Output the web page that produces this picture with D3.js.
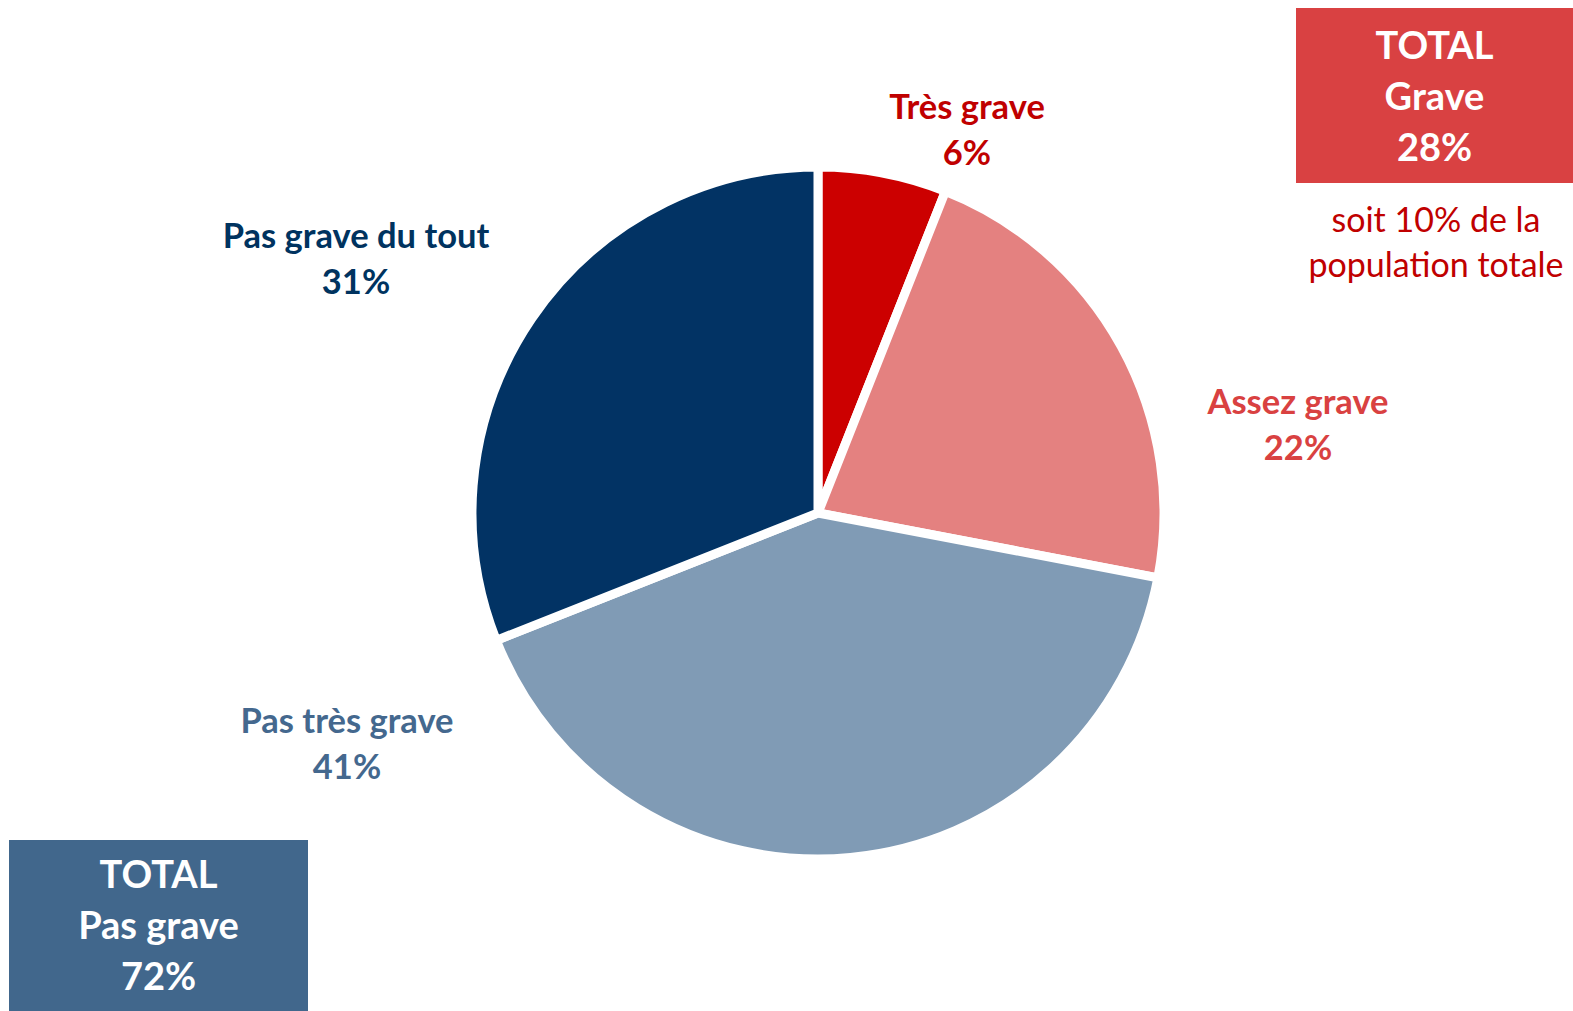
<!DOCTYPE html>
<html>
<head>
<meta charset="utf-8">
<script src="https://cdn.jsdelivr.net/npm/d3@7/dist/d3.min.js"></script>
<style>
  body { margin: 0; background: #fff; }
  svg { display: block; font-family: Lato, "Open Sans", sans-serif; }
</style>
</head>
<body>
<div id="chart"></div>
<script>
const categories = ["Très grave", "Assez grave", "Pas très grave", "Pas grave du tout"];
const values = [6, 22, 41, 31];
const sliceColors = ["#cc0000", "#e48180", "#809bb5", "#023364"];
const labelColors = ["#c00000", "#d94141", "#44688e", "#00335f"];

const totalGrave = { title: "TOTAL", name: "Grave", value: 28 };
const totalPasGrave = { title: "TOTAL", name: "Pas grave", value: 72 };
const noteLines = ["soit 10% de la", "population totale"];

const svgWidth = 1573,
  svgHeight = 1011,
  cx = 818,
  cy = 513,
  radius = 346;

// label anchors (layout only)
const labelPos = [
  [967, 119],
  [1298, 414],
  [347, 733],
  [356, 248]
];

const svg = d3
  .select("#chart")
  .append("svg")
  .attr("width", svgWidth)
  .attr("height", svgHeight);

const pie = d3.pie().sort(null).value(d => d);
const arc = d3.arc().innerRadius(0).outerRadius(radius);

const g = svg.append("g").attr("transform", "translate(" + cx + "," + cy + ")");

g.selectAll("path")
  .data(pie(values))
  .enter()
  .append("path")
  .attr("d", arc)
  .attr("fill", (d, i) => sliceColors[i])
  .attr("stroke", "#fff")
  .attr("stroke-width", 9)
  .attr("stroke-linejoin", "miter");

// slice labels
const labels = svg
  .selectAll("text.slice-label")
  .data(values)
  .enter()
  .append("text")
  .attr("class", "slice-label")
  .attr("text-anchor", "middle")
  .attr("font-weight", "bold")
  .attr("font-size", 34.5)
  .attr("fill", (d, i) => labelColors[i])
  .attr("transform", (d, i) => "translate(" + labelPos[i][0] + "," + labelPos[i][1] + ")");

labels.append("tspan").attr("x", 0).attr("y", 0).text((d, i) => categories[i]);
labels.append("tspan").attr("x", 0).attr("y", 46).text(d => d + "%");

// total boxes
function totalBox(x, y, w, h, color, t, baselines) {
  svg.append("rect")
    .attr("x", x).attr("y", y)
    .attr("width", w).attr("height", h)
    .attr("fill", color);
  const lines = [t.title, t.name, t.value + "%"];
  svg.selectAll(null)
    .data(lines)
    .enter()
    .append("text")
    .attr("x", x + w / 2)
    .attr("y", (d, i) => baselines[i])
    .attr("text-anchor", "middle")
    .attr("font-weight", "bold")
    .attr("font-size", 38)
    .attr("fill", "#fff")
    .text(d => d);
}

totalBox(1296, 8, 277, 175, "#d94142", totalGrave, [59, 110, 161]);
totalBox(9, 840, 299, 171, "#41678c", totalPasGrave, [888, 939, 990]);

svg.selectAll("text.note")
  .data(noteLines)
  .enter()
  .append("text")
  .attr("class", "note")
  .attr("x", 1436)
  .attr("y", (d, i) => 232 + i * 45)
  .attr("text-anchor", "middle")
  .attr("font-size", 34)
  .attr("fill", "#c00000")
  .text(d => d);
</script>
</body>
</html>
